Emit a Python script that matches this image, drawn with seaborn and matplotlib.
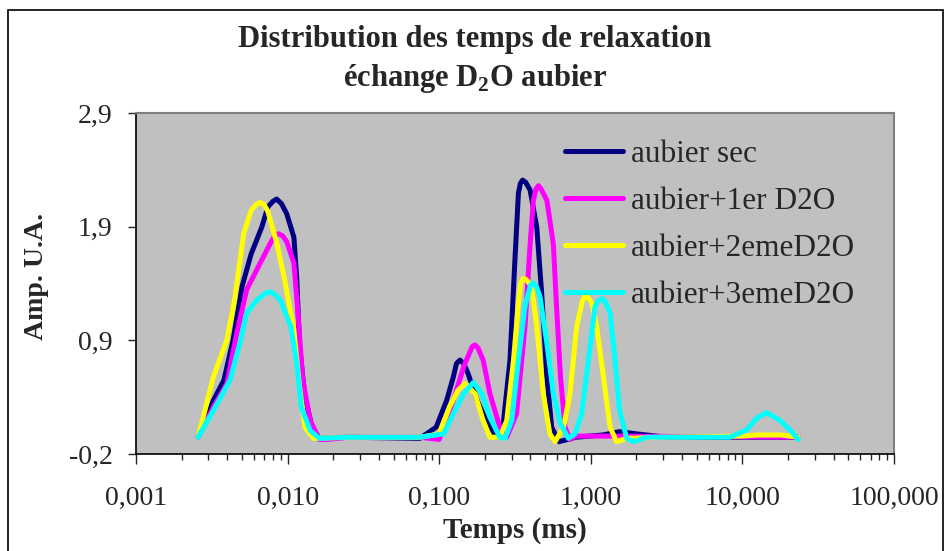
import matplotlib
import numpy as np
import matplotlib.pyplot as plt
plt.switch_backend('agg')
import pandas as pd
import seaborn as sns
from matplotlib.ticker import FixedLocator, LogLocator, NullFormatter
from matplotlib.patches import Rectangle

import warnings
warnings.filterwarnings('ignore')

# temps (ms) / amplitude
t_sec = [0.00257, 0.00324, 0.00380, 0.00437, 0.00501, 0.00575, 0.00676, 0.00741, 0.0080, 0.00847,
         0.0091, 0.00986, 0.0110, 0.0115, 0.0120, 0.0130, 0.0145, 0.0162, 0.0251, 0.0746, 0.0955,
         0.112, 0.124, 0.130, 0.137, 0.145, 0.155, 0.178, 0.204, 0.240, 0.263, 0.293, 0.316, 0.333,
         0.343, 0.355, 0.372, 0.398, 0.440, 0.474, 0.513, 0.552, 0.617, 0.80, 1.2, 1.55, 2.0, 3.16,
         23.4]
a_sec = [0.0, 0.33, 0.51, 0.87, 1.35, 1.64, 1.88, 2.06, 2.11, 2.13,
         2.09, 2.00, 1.79, 1.41, 0.81, 0.36, 0.09, -0.01, 0.0, -0.01, 0.09,
         0.33, 0.54, 0.66, 0.69, 0.66, 0.57, 0.33, 0.15, 0.0, 0.09, 0.69, 1.59, 2.18,
         2.27, 2.30, 2.28, 2.21, 1.88, 1.29, 0.54, 0.09, -0.04, 0.0, 0.02, 0.05, 0.03, 0.0,
         0.0]

t_1er = [0.00257, 0.00324, 0.00398, 0.00457, 0.00537, 0.00661, 0.00766, 0.0082, 0.00871, 0.0093,
         0.00986, 0.0110, 0.0117, 0.0126, 0.0141, 0.0162, 0.0182, 0.0251, 0.0746, 0.100, 0.124,
         0.145, 0.165, 0.172, 0.180, 0.195, 0.216, 0.251, 0.279, 0.324, 0.368, 0.398, 0.418, 0.435,
         0.451, 0.470, 0.513, 0.566, 0.596, 0.631, 0.676, 0.729, 0.80, 1.5, 23.4]
a_1er = [0.0, 0.27, 0.48, 0.90, 1.32, 1.56, 1.73, 1.80, 1.82, 1.80,
         1.75, 1.56, 1.11, 0.51, 0.15, -0.02, -0.02, 0.0, 0.0, -0.02, 0.33,
         0.63, 0.81, 0.825, 0.80, 0.69, 0.39, 0.09, 0.0, 0.21, 0.99, 1.73, 2.12, 2.22,
         2.25, 2.22, 2.12, 1.73, 1.14, 0.54, 0.09, -0.02, 0.01, 0.01, 0.0]

t_2eme = [0.00257, 0.00324, 0.00398, 0.00447, 0.00513, 0.00575, 0.0062, 0.00661, 0.0070, 0.00741,
          0.00851, 0.00955, 0.0110, 0.0120, 0.0130, 0.0148, 0.0251, 0.0746, 0.100, 0.117, 0.133,
          0.148, 0.172, 0.195, 0.216, 0.251, 0.279, 0.309, 0.333, 0.345, 0.359, 0.375, 0.407, 0.440,
          0.486, 0.537, 0.581, 0.661, 0.729, 0.807, 0.88, 0.916, 0.96, 1.014, 1.094, 1.211, 1.340,
          1.479, 1.726, 3.0, 10.0, 12.6, 17.8, 23.4]
a_2eme = [0.0, 0.54, 0.87, 1.23, 1.82, 2.03, 2.08, 2.10, 2.08, 2.02,
          1.73, 1.41, 0.96, 0.45, 0.09, -0.01, 0.0, 0.0, 0.03, 0.27, 0.42,
          0.48, 0.39, 0.15, 0.0, 0.0, 0.15, 0.69, 1.20, 1.38, 1.42, 1.41, 1.35, 0.99,
          0.39, 0.03, -0.04, 0.09, 0.39, 0.99, 1.22, 1.26, 1.25, 1.20, 0.99, 0.54, 0.09,
          -0.04, -0.01, 0.0, 0.01, 0.02, 0.02, 0.0]

t_3eme = [0.00257, 0.00324, 0.00417, 0.00490, 0.00537, 0.00631, 0.0072, 0.00766, 0.0082, 0.00891,
          0.0105, 0.0115, 0.0123, 0.0141, 0.0162, 0.0251, 0.0746, 0.107, 0.124, 0.145, 0.168,
          0.191, 0.216, 0.251, 0.272, 0.301, 0.333, 0.368, 0.400, 0.418, 0.440, 0.462, 0.513, 0.566,
          0.631, 0.711, 0.787, 0.871, 0.964, 1.067, 1.12, 1.180, 1.25, 1.340, 1.445, 1.549, 1.726,
          1.905, 2.344, 8.28, 10.67, 12.42, 14.45, 17.7, 20.6, 23.4]
a_3eme = [0.0, 0.24, 0.51, 0.87, 1.11, 1.23, 1.29, 1.30, 1.28, 1.23,
          0.99, 0.66, 0.27, 0.06, -0.01, 0.0, 0.0, 0.03, 0.21, 0.39, 0.49,
          0.39, 0.18, 0.0, -0.01, 0.15, 0.69, 1.17, 1.36, 1.38, 1.34, 1.26, 0.84, 0.39,
          0.12, -0.01, 0.03, 0.21, 0.69, 1.17, 1.22, 1.24, 1.21, 1.11, 0.69, 0.24, -0.01,
          -0.04, 0.0, 0.0, 0.065, 0.17, 0.22, 0.15, 0.065, -0.02]

series = ['aubier sec', 'aubier+1er D2O', 'aubier+2emeD2O', 'aubier+3emeD2O']
colors = ['#000080', '#FF00FF', '#FFFF00', '#00FFFF']

x_ticks = [0.001, 0.01, 0.1, 1, 10, 100]
x_labels = ['0,001', '0,010', '0,100', '1,000', '10,000', '100,000']
y_labels = ['-0,2', '0,9', '1,9', '2,9']

frames = []
for name, t, a in zip(series, [t_sec, t_1er, t_2eme, t_3eme], [a_sec, a_1er, a_2eme, a_3eme]):
    frames.append(pd.DataFrame({'t': t, 'amp': a, 'serie': name}))
df = pd.concat(frames, ignore_index=True)

sns.set_style('white')
plt.rcParams['font.family'] = ['Liberation Serif', 'DejaVu Serif']
plt.rcParams['mathtext.fontset'] = 'custom'
plt.rcParams['mathtext.rm'] = 'Liberation Serif:bold'
plt.rcParams['mathtext.bf'] = 'Liberation Serif:bold'

fig = plt.figure(figsize=(9.46, 5.51), dpi=100)
ax = fig.add_axes([136/946, 1 - 454/551, 758/946, 341/551])
ax.set_facecolor('#C0C0C0')

sns.lineplot(data=df, x='t', y='amp', hue='serie', hue_order=series,
             palette=colors, sort=False, estimator=None, linewidth=3.6, ax=ax)
for line in ax.lines:
    line.set_solid_joinstyle('round')

ax.set_xscale('log')
ax.set_xlim(0.001, 100)
ax.set_ylim(-0.15, 2.9)
ax.xaxis.set_major_locator(FixedLocator(x_ticks))
ax.set_xticklabels(x_labels)
ax.xaxis.set_minor_locator(LogLocator(base=10, subs=np.arange(2, 10)))
ax.xaxis.set_minor_formatter(NullFormatter())
ax.set_yticks(np.linspace(-0.15, 2.9, 4))
ax.set_yticklabels(y_labels)

ax.tick_params(axis='x', which='major', direction='out', length=7, width=1, pad=16,
               labelsize=20, bottom=True)
ax.tick_params(axis='x', which='minor', direction='out', length=4.5, width=1, bottom=True)
ax.tick_params(axis='y', direction='out', length=6, width=1, pad=11, labelsize=20, left=True)

for s in ['left', 'bottom']:
    ax.spines[s].set_color('black')
    ax.spines[s].set_linewidth(1.2)
for s in ['top', 'right']:
    ax.spines[s].set_color('#808080')
    ax.spines[s].set_linewidth(1.5)

ax.set_xlabel('Temps (ms)', fontsize=21, fontweight='bold')
ax.set_ylabel('Amp. U.A.', fontsize=20, fontweight='bold')
ax.xaxis.set_label_coords(0.5, -0.185)
ax.yaxis.set_label_coords(-0.115, 0.52)

handles, labels = ax.get_legend_handles_labels()
ax.legend(handles, labels, loc='upper left', bbox_to_anchor=(0.566, 0.92), frameon=False,
          fontsize=22.5, handlelength=1.85, handletextpad=0.25, labelspacing=0.57,
          borderpad=0, borderaxespad=0)

fig.text(0.502, 1 - 47/551, 'Distribution des temps de relaxation', ha='center',
         va='baseline', fontsize=22, fontweight='bold')
fig.text(0.502, 1 - 86/551, r'échange D$_{\mathbf{2}}$O aubier', ha='center',
         va='baseline', fontsize=22, fontweight='bold')

# cadre du graphique
fig.patches.append(Rectangle((8/946, -0.05), 935/946, 1.05 - 10/551, transform=fig.transFigure,
                             fill=False, edgecolor='black', linewidth=1.2))

fig.savefig('out.png', dpi=100)
